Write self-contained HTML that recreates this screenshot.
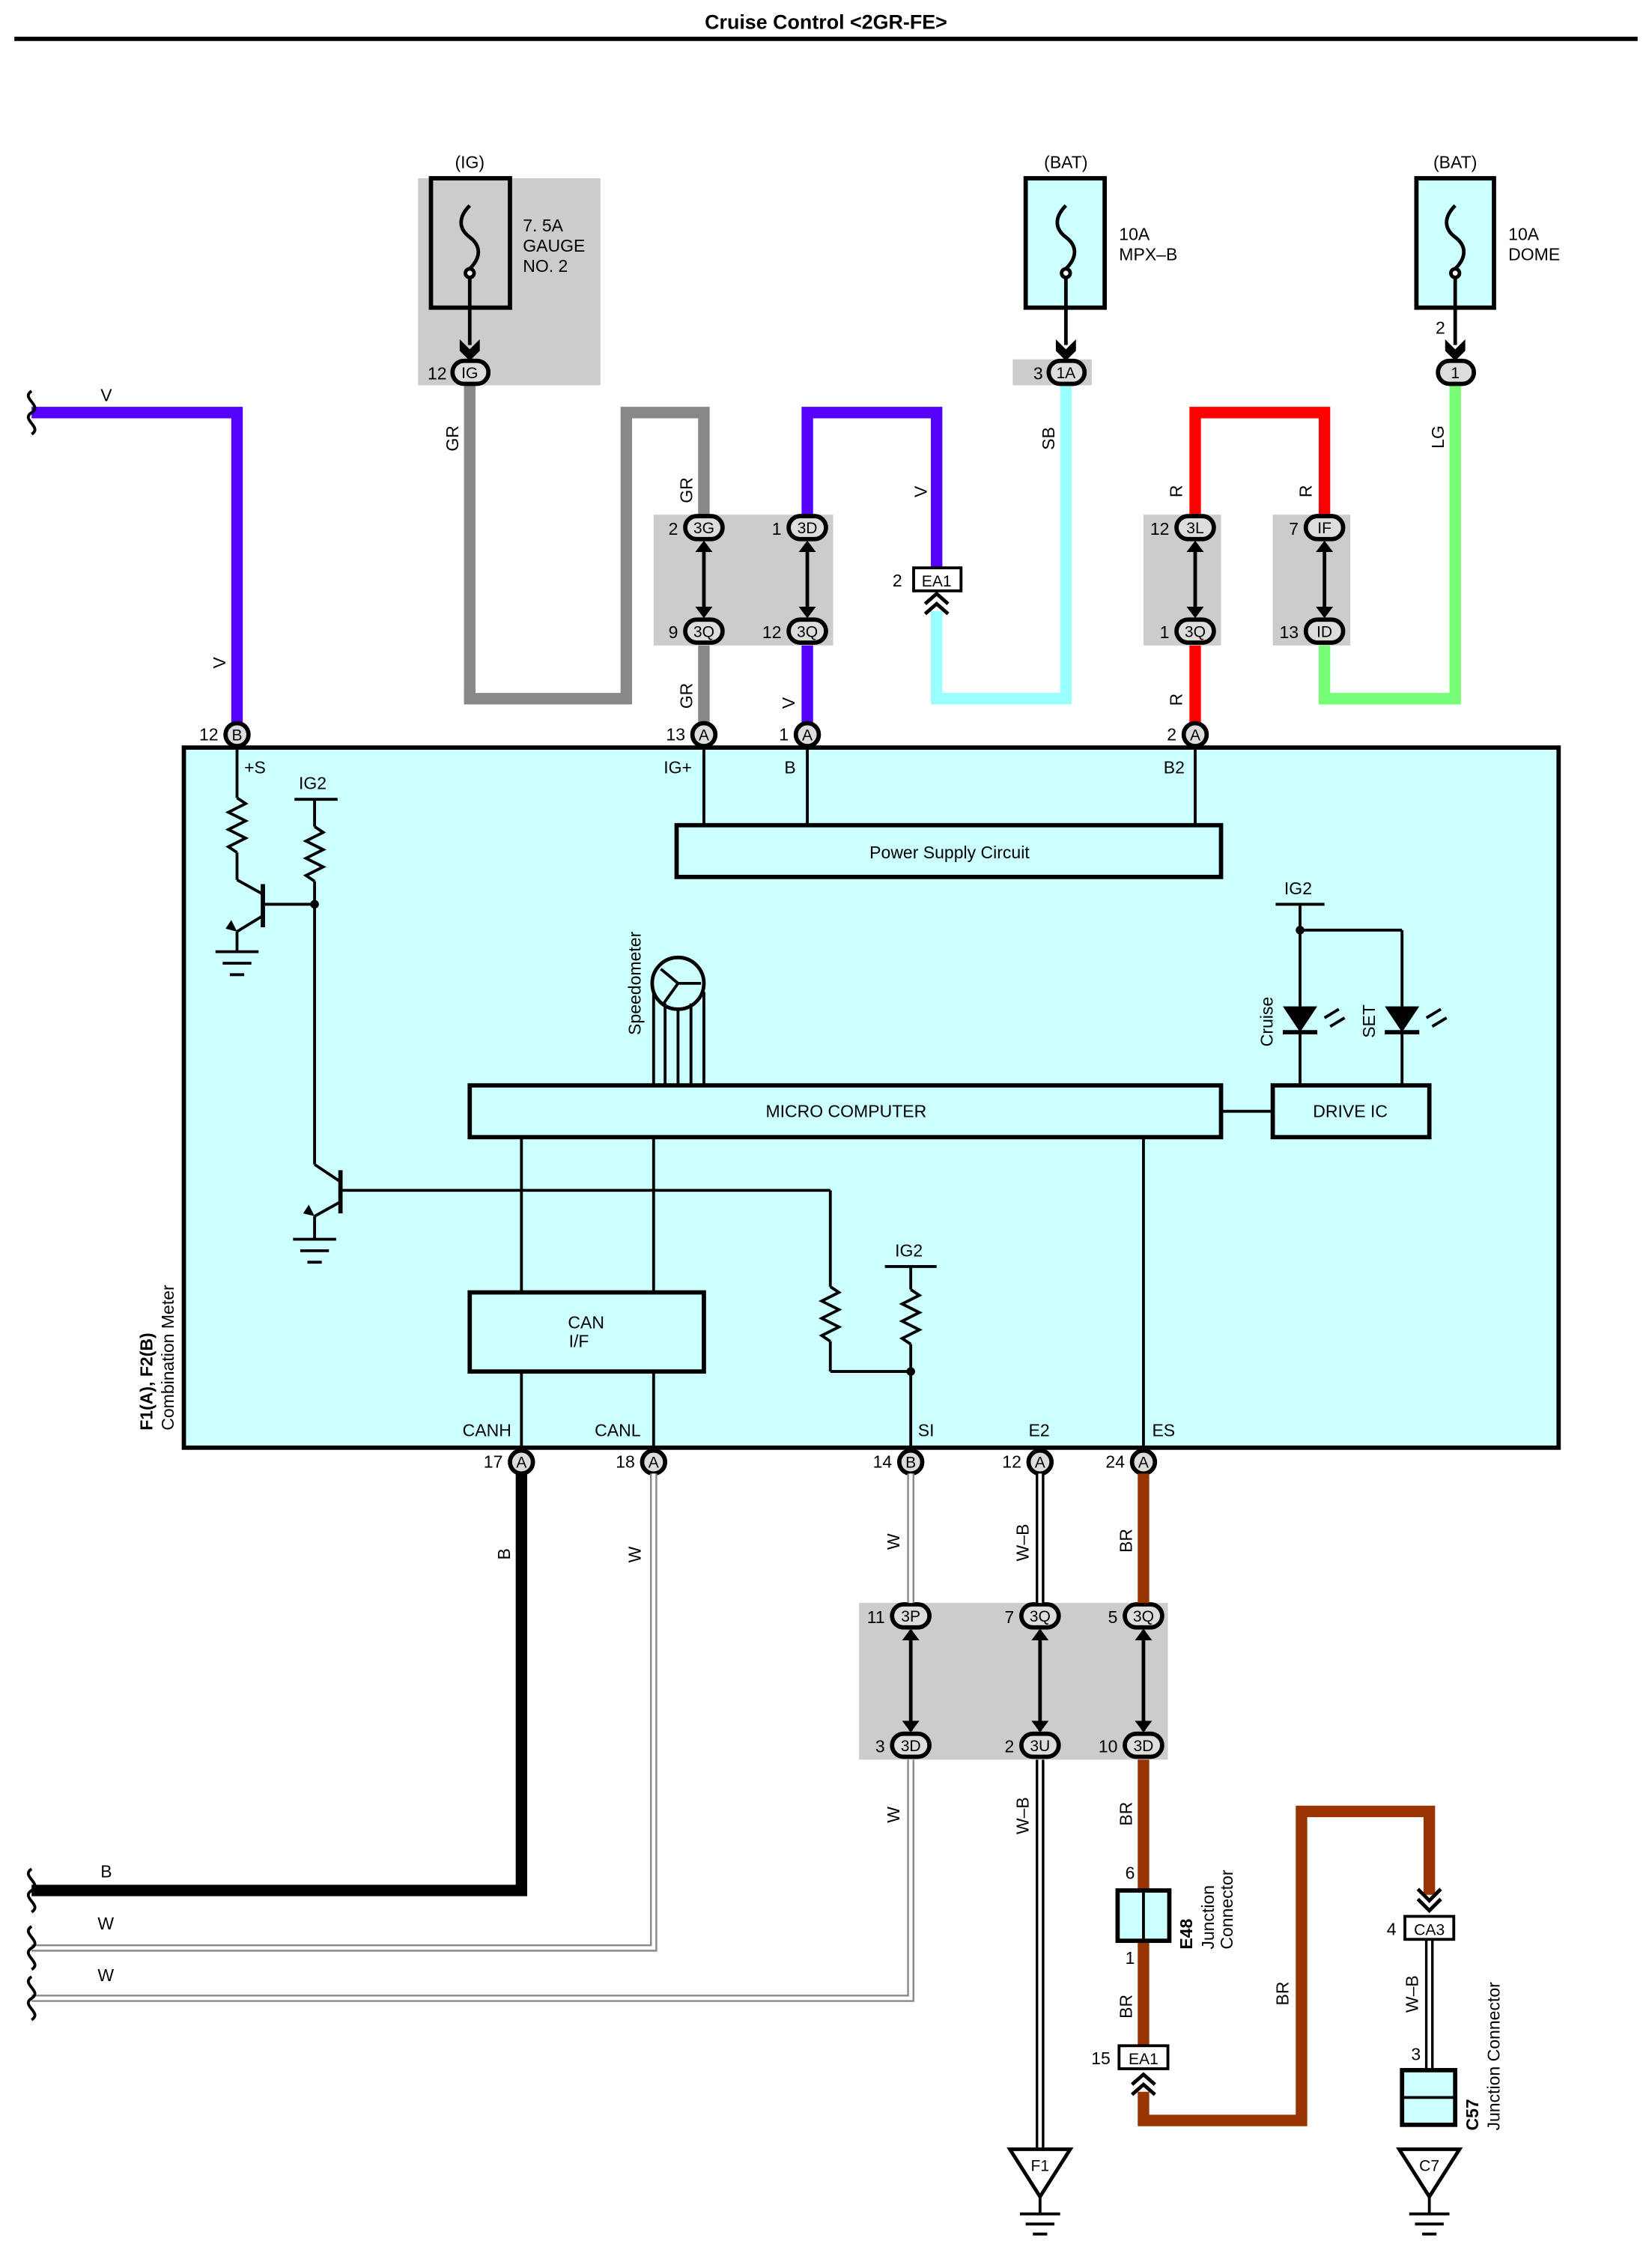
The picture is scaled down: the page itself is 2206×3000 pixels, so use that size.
<!DOCTYPE html>
<html><head><meta charset="utf-8"><style>html,body{margin:0;padding:0;background:#fff}svg{display:block}</style></head>
<body>
<svg width="2206" height="3000" viewBox="0 0 1150 1563" preserveAspectRatio="none" xmlns="http://www.w3.org/2000/svg" font-family="Liberation Sans, sans-serif" font-size="12">
<defs>
<marker id="ah" viewBox="0 0 10 10" refX="5" refY="8" markerWidth="4" markerHeight="4" orient="auto"><path d="M0,0 L5,4 L10,0 L10,4 L5,10 L0,4Z" fill="#000"/></marker>
</defs>
<text x="575" y="20" text-anchor="middle" font-weight="bold" font-size="14">Cruise Control &lt;2GR-FE&gt;</text>
<line x1="10" y1="27" x2="1140" y2="27" stroke="#000" stroke-width="3"/>

<!-- gray backgrounds -->
<rect x="291" y="124" width="127" height="144" fill="#ccc"/>
<rect x="705" y="250" width="55" height="18" fill="#ccc"/>
<rect x="455" y="358" width="125" height="91" fill="#ccc"/>
<rect x="796" y="358" width="54" height="91" fill="#ccc"/>
<rect x="886" y="358" width="54" height="91" fill="#ccc"/>
<rect x="598" y="1115" width="215" height="109" fill="#ccc"/>

<!-- fuses -->
<g stroke="#000" stroke-width="3" fill="none">
<rect x="300" y="124" width="55" height="90"/>
<rect x="714" y="124" width="55" height="90" fill="#ccffff"/>
<rect x="986" y="124" width="54" height="90" fill="#ccffff"/>
</g>
<g stroke="#000" stroke-width="2.5" fill="none">
<path d="M327,143 c-8,8 -8,16 0,22 c8,6 8,14 0,22"/><circle cx="327" cy="190" r="3" fill="#fff"/><line x1="327" y1="193" x2="327" y2="240"/>
<path d="M742,143 c-8,8 -8,16 0,22 c8,6 8,14 0,22"/><circle cx="742" cy="190" r="3" fill="#fff"/><line x1="742" y1="193" x2="742" y2="240"/>
<path d="M1013,143 c-8,8 -8,16 0,22 c8,6 8,14 0,22"/><circle cx="1013" cy="190" r="3" fill="#fff"/><line x1="1013" y1="193" x2="1013" y2="240"/>
</g>
<g fill="#000">
<path d="M320,236 L327,243 L334,236 L334,244 L327,251 L320,244Z"/>
<path d="M735,236 L742,243 L749,236 L749,244 L742,251 L735,244Z"/>
<path d="M1006,236 L1013,243 L1020,236 L1020,244 L1013,251 L1006,244Z"/>
</g>
<text x="327" y="117" text-anchor="middle">(IG)</text>
<text x="742" y="117" text-anchor="middle">(BAT)</text>
<text x="1013" y="117" text-anchor="middle">(BAT)</text>
<text x="364" y="161">7. 5A</text><text x="364" y="175">GAUGE</text><text x="364" y="189">NO. 2</text>
<text x="779" y="167">10A</text><text x="779" y="181">MPX–B</text>
<text x="1050" y="167">10A</text><text x="1050" y="181">DOME</text>

<!-- wires top -->
<g fill="none" stroke-linejoin="miter" stroke-width="8">
<path d="M22,287 H165 V503" stroke="#5500ff"/>
<path d="M327,268 V486 H436 V287 H490 V360" stroke="#888"/>
<path d="M490,449 V503" stroke="#888"/>
<path d="M562,360 V287 H652 V395" stroke="#5500ff"/>
<path d="M562,449 V503" stroke="#5500ff"/>
<path d="M742,268 V486 H652 V425" stroke="#99ffff"/>
<path d="M832,360 V287 H922 V360" stroke="#ff0000"/>
<path d="M832,449 V503" stroke="#ff0000"/>
<path d="M1013,268 V486 H922 V449" stroke="#77ff77"/>
</g>

<!-- main box -->
<rect x="128" y="520" width="957" height="487" fill="#ccffff" stroke="#000" stroke-width="3"/>

<!-- wire labels top -->
<g font-size="12">
<text x="70" y="279">V</text>
<text transform="translate(157,465) rotate(-90)">V</text>
<text transform="translate(319,314) rotate(-90)">GR</text>
<text transform="translate(482,350) rotate(-90)">GR</text>
<text transform="translate(482,493) rotate(-90)">GR</text>
<text transform="translate(645,346) rotate(-90)">V</text>
<text transform="translate(553,493) rotate(-90)">V</text>
<text transform="translate(734,313) rotate(-90)">SB</text>
<text transform="translate(823,346) rotate(-90)">R</text>
<text transform="translate(913,346) rotate(-90)">R</text>
<text transform="translate(823,491) rotate(-90)">R</text>
<text transform="translate(1005,312) rotate(-90)">LG</text>
</g>

<!-- double arrows in connector blocks -->
<g stroke="#000" stroke-width="2.5">
<line x1="490" y1="378" x2="490" y2="428"/><line x1="562" y1="378" x2="562" y2="428"/>
<line x1="832" y1="378" x2="832" y2="428"/><line x1="922" y1="378" x2="922" y2="428"/>
<line x1="634" y1="1134" x2="634" y2="1204"/><line x1="724" y1="1134" x2="724" y2="1204"/><line x1="796" y1="1134" x2="796" y2="1204"/>
</g>
<g fill="#000">
<path id="up" d="M0,0 L6,8 H-6Z" transform="translate(490,376)"/>
<path d="M0,0 L6,-8 H-6Z" transform="translate(490,430)"/>
<path d="M0,0 L6,8 H-6Z" transform="translate(562,376)"/><path d="M0,0 L6,-8 H-6Z" transform="translate(562,430)"/>
<path d="M0,0 L6,8 H-6Z" transform="translate(832,376)"/><path d="M0,0 L6,-8 H-6Z" transform="translate(832,430)"/>
<path d="M0,0 L6,8 H-6Z" transform="translate(922,376)"/><path d="M0,0 L6,-8 H-6Z" transform="translate(922,430)"/>
<path d="M0,0 L6,8 H-6Z" transform="translate(634,1133)"/><path d="M0,0 L6,-8 H-6Z" transform="translate(634,1205)"/>
<path d="M0,0 L6,8 H-6Z" transform="translate(724,1133)"/><path d="M0,0 L6,-8 H-6Z" transform="translate(724,1205)"/>
<path d="M0,0 L6,8 H-6Z" transform="translate(796,1133)"/><path d="M0,0 L6,-8 H-6Z" transform="translate(796,1205)"/>
</g>
<!-- EA1 top -->
<rect x="636" y="395" width="33" height="16" fill="#fff" stroke="#000" stroke-width="2"/>
<text x="652" y="408" text-anchor="middle" font-size="11">EA1</text>
<text x="628" y="408" text-anchor="end">2</text>
<path d="M644,420 L652,413 L660,420 M644,427 L652,420 L660,427" stroke="#000" stroke-width="2.5" fill="none"/>

<!-- pills -->
<g stroke="#000" stroke-width="3" fill="#ddd">
<rect x="315" y="251" width="25" height="16" rx="8"/>
<rect x="730" y="251" width="25" height="16" rx="8"/>
<rect x="1001" y="251" width="25" height="16" rx="8"/>
<rect x="477" y="359" width="26" height="16" rx="8"/><rect x="477" y="431" width="26" height="16" rx="8"/>
<rect x="549" y="359" width="26" height="16" rx="8"/><rect x="549" y="431" width="26" height="16" rx="8"/>
<rect x="819" y="359" width="26" height="16" rx="8"/><rect x="819" y="431" width="26" height="16" rx="8"/>
<rect x="909" y="359" width="26" height="16" rx="8"/><rect x="909" y="431" width="26" height="16" rx="8"/>
<rect x="621" y="1116" width="26" height="16" rx="8"/><rect x="621" y="1206" width="26" height="16" rx="8"/>
<rect x="711" y="1116" width="26" height="16" rx="8"/><rect x="711" y="1206" width="26" height="16" rx="8"/>
<rect x="783" y="1116" width="26" height="16" rx="8"/><rect x="783" y="1206" width="26" height="16" rx="8"/>
<circle cx="165" cy="511" r="8"/><circle cx="490" cy="511" r="8"/><circle cx="562" cy="511" r="8"/><circle cx="832" cy="511" r="8"/>
<circle cx="363" cy="1017" r="8"/><circle cx="455" cy="1017" r="8"/><circle cx="634" cy="1017" r="8"/><circle cx="724" cy="1017" r="8"/><circle cx="796" cy="1017" r="8"/>
</g>
<g font-size="11" text-anchor="middle">
<text x="327" y="263">IG</text><text x="742" y="263">1A</text><text x="1013" y="263">1</text>
<text x="490" y="371">3G</text><text x="490" y="443">3Q</text><text x="562" y="371">3D</text><text x="562" y="443">3Q</text>
<text x="832" y="371">3L</text><text x="832" y="443">3Q</text><text x="922" y="371">IF</text><text x="922" y="443">ID</text>
<text x="634" y="1128">3P</text><text x="634" y="1218">3D</text><text x="724" y="1128">3Q</text><text x="724" y="1218">3U</text><text x="796" y="1128">3Q</text><text x="796" y="1218">3D</text>
<text x="165" y="515">B</text><text x="490" y="515">A</text><text x="562" y="515">A</text><text x="832" y="515">A</text>
<text x="363" y="1021">A</text><text x="455" y="1021">A</text><text x="634" y="1021">B</text><text x="724" y="1021">A</text><text x="796" y="1021">A</text>
</g>
<g text-anchor="end">
<text x="311" y="264">12</text><text x="726" y="264">3</text><text x="1006" y="232">2</text>
<text x="472" y="372">2</text><text x="472" y="444">9</text><text x="544" y="372">1</text><text x="544" y="444">12</text>
<text x="814" y="372">12</text><text x="814" y="444">1</text><text x="904" y="372">7</text><text x="904" y="444">13</text>
<text x="152" y="515">12</text><text x="477" y="515">13</text><text x="549" y="515">1</text><text x="819" y="515">2</text>
<text x="350" y="1021">17</text><text x="442" y="1021">18</text><text x="621" y="1021">14</text><text x="711" y="1021">12</text><text x="783" y="1021">24</text>
<text x="616" y="1129">11</text><text x="616" y="1219">3</text><text x="706" y="1129">7</text><text x="706" y="1219">2</text><text x="778" y="1129">5</text><text x="778" y="1219">10</text>
</g>

<!-- internals -->
<g stroke="#000" stroke-width="2" fill="none">
<line x1="165" y1="520" x2="165" y2="555"/>
<path d="M165,555 l6,4 l-12,6 l12,6 l-12,6 l12,6 l-12,6 l6,4"/>
<line x1="165" y1="593" x2="165" y2="612"/>
<line x1="205" y1="556" x2="235" y2="556"/><line x1="219" y1="556" x2="219" y2="575"/>
<path d="M219,575 l6,4 l-12,6 l12,6 l-12,6 l12,6 l-12,6 l6,4"/>
<line x1="219" y1="613" x2="219" y2="810"/>
<line x1="219" y1="629" x2="183" y2="629"/>
<line x1="183" y1="615" x2="183" y2="645" stroke-width="3"/>
<line x1="183" y1="622" x2="165" y2="612"/><line x1="183" y1="637" x2="165" y2="648"/>
<line x1="165" y1="648" x2="165" y2="662"/>
<line x1="150" y1="662" x2="180" y2="662"/><line x1="155" y1="670" x2="175" y2="670"/><line x1="160" y1="678" x2="170" y2="678"/>
<line x1="237" y1="814" x2="237" y2="844" stroke-width="3"/>
<line x1="237" y1="828" x2="578" y2="828"/>
<line x1="237" y1="822" x2="219" y2="810"/><line x1="237" y1="836" x2="219" y2="846"/>
<line x1="219" y1="846" x2="219" y2="862"/>
<line x1="204" y1="862" x2="234" y2="862"/><line x1="209" y1="870" x2="229" y2="870"/><line x1="214" y1="878" x2="224" y2="878"/>
<line x1="578" y1="828" x2="578" y2="895"/>
<path d="M578,895 l6,4 l-12,6 l12,6 l-12,6 l12,6 l-12,6 l6,4"/>
<line x1="578" y1="933" x2="578" y2="954"/><line x1="578" y1="954" x2="634" y2="954"/>
<line x1="616" y1="881" x2="652" y2="881"/><line x1="634" y1="881" x2="634" y2="897"/>
<path d="M634,897 l6,4 l-12,6 l12,6 l-12,6 l12,6 l-12,6 l6,4"/>
<line x1="634" y1="935" x2="634" y2="1007"/>
<line x1="490" y1="520" x2="490" y2="574"/><line x1="562" y1="520" x2="562" y2="574"/><line x1="832" y1="520" x2="832" y2="574"/>
<rect x="471" y="574" width="379" height="36" stroke-width="3"/>
<rect x="327" y="755" width="523" height="36" stroke-width="3"/>
<rect x="886" y="755" width="109" height="36" stroke-width="3"/>
<line x1="850" y1="773" x2="886" y2="773"/>
<circle cx="472" cy="684" r="18" stroke-width="2.5"/>
<path d="M472,684 L460,674 M472,684 L462,698 M472,684 L488,684"/>
<line x1="455" y1="690" x2="455" y2="755"/><line x1="463" y1="698" x2="463" y2="755"/><line x1="472" y1="702" x2="472" y2="755"/><line x1="481" y1="698" x2="481" y2="755"/><line x1="490" y1="690" x2="490" y2="755"/>
<line x1="888" y1="629" x2="922" y2="629"/>
<line x1="905" y1="629" x2="905" y2="700"/><line x1="905" y1="647" x2="976" y2="647"/><line x1="976" y1="647" x2="976" y2="700"/>
<line x1="905" y1="718" x2="905" y2="755"/><line x1="976" y1="718" x2="976" y2="755"/>
<line x1="893" y1="718" x2="917" y2="718" stroke-width="3"/><line x1="964" y1="718" x2="988" y2="718" stroke-width="3"/>
<path d="M922,708 l10,-6 M926,714 l10,-6 M993,708 l10,-6 M997,714 l10,-6"/>
<line x1="363" y1="791" x2="363" y2="899"/><line x1="455" y1="791" x2="455" y2="899"/>
<line x1="796" y1="791" x2="796" y2="1007"/>
<rect x="327" y="899" width="163" height="55" stroke-width="3"/>
<line x1="363" y1="954" x2="363" y2="1007"/><line x1="455" y1="954" x2="455" y2="1007"/>
</g>
<g fill="#000">
<circle cx="219" cy="629" r="3"/><circle cx="905" cy="647" r="3"/><circle cx="634" cy="954" r="3"/>
<path d="M893,700 H917 L905,718Z"/><path d="M964,700 H988 L976,718Z"/>
<path d="M165,648 l-8,-2 l4,-6Z"/><path d="M219,846 l-8,-2 l4,-6Z"/>
</g>
<g font-size="12">
<text x="170" y="538">+S</text><text x="208" y="549">IG2</text>
<text x="462" y="538">IG+</text><text x="546" y="538">B</text><text x="810" y="538">B2</text>
<text x="661" y="597" text-anchor="middle">Power Supply Circuit</text>
<text x="589" y="777" text-anchor="middle">MICRO COMPUTER</text>
<text x="940" y="777" text-anchor="middle">DRIVE IC</text>
<text x="408" y="924" text-anchor="middle">CAN</text><text x="396" y="937">I/F</text>
<text x="894" y="622">IG2</text><text x="623" y="874">IG2</text>
<text transform="translate(446,720) rotate(-90)">Speedometer</text>
<text transform="translate(886,728) rotate(-90)">Cruise</text>
<text transform="translate(957,722) rotate(-90)">SET</text>
<text x="322" y="999">CANH</text><text x="414" y="999">CANL</text><text x="639" y="999">SI</text><text x="716" y="999">E2</text><text x="802" y="999">ES</text>
<text transform="translate(106,995) rotate(-90)" font-weight="bold">F1(A), F2(B)</text>
<text transform="translate(121,995) rotate(-90)">Combination Meter</text>
</g>

<!-- bottom wires -->
<path d="M363,1025 V1315 H22" stroke="#000" stroke-width="8" fill="none"/>
<path d="M455,1025 V1355 H22" stroke="#888" stroke-width="5" fill="none"/>
<path d="M455,1025 V1355 H22" stroke="#fff" stroke-width="2.5" fill="none"/>
<path d="M634,1025 V1115 M634,1224 V1390 H22" stroke="#888" stroke-width="5" fill="none"/>
<path d="M634,1025 V1115 M634,1224 V1390 H22" stroke="#fff" stroke-width="2.5" fill="none"/>
<path d="M724,1025 V1115 M724,1224 V1495" stroke="#000" stroke-width="6" fill="none"/>
<path d="M724,1025 V1115 M724,1224 V1495" stroke="#fff" stroke-width="2.5" fill="none"/>
<path d="M796,1025 V1115 M796,1224 V1315" stroke="#993300" stroke-width="8" fill="none"/>
<path d="M796,1350 V1423" stroke="#993300" stroke-width="8" fill="none"/>
<path d="M796,1455 V1475 H906 V1260 H995 V1318" stroke="#993300" stroke-width="8" fill="none"/>
<path d="M995,1349 V1440" stroke="#000" stroke-width="6" fill="none"/>
<path d="M995,1349 V1440" stroke="#fff" stroke-width="2.5" fill="none"/>
<!-- jagged ends -->
<g stroke="#000" stroke-width="2" fill="none">
<path d="M22,272 c-8,5 8,10 0,15 c-8,5 8,10 0,15"/>
<path d="M22,1300 c-8,5 8,10 0,15 c-8,5 8,10 0,15"/>
<path d="M22,1340 c-8,5 8,10 0,15 c-8,5 8,10 0,15"/>
<path d="M22,1375 c-8,5 8,10 0,15 c-8,5 8,10 0,15"/>
</g>
<g font-size="12">
<text transform="translate(355,1085) rotate(-90)">B</text>
<text transform="translate(446,1087) rotate(-90)">W</text>
<text transform="translate(626,1078) rotate(-90)">W</text>
<text transform="translate(626,1268) rotate(-90)">W</text>
<text transform="translate(716,1086) rotate(-90)">W–B</text>
<text transform="translate(716,1276) rotate(-90)">W–B</text>
<text transform="translate(788,1080) rotate(-90)">BR</text>
<text transform="translate(788,1270) rotate(-90)">BR</text>
<text transform="translate(788,1404) rotate(-90)">BR</text>
<text transform="translate(897,1395) rotate(-90)">BR</text>
<text transform="translate(987,1400) rotate(-90)">W–B</text>
<text x="70" y="1306">B</text><text x="68" y="1342">W</text><text x="68" y="1378">W</text>
</g>
<!-- E48 -->
<rect x="778" y="1315" width="36" height="35" fill="#ccffff" stroke="#000" stroke-width="3"/>
<line x1="796" y1="1315" x2="796" y2="1350" stroke="#000" stroke-width="2"/>
<text x="790" y="1307" text-anchor="end">6</text><text x="790" y="1366" text-anchor="end">1</text>
<text transform="translate(830,1356) rotate(-90)" font-weight="bold">E48</text>
<text transform="translate(845,1356) rotate(-90)">Junction</text>
<text transform="translate(858,1356) rotate(-90)">Connector</text>
<rect x="779" y="1423" width="34" height="16" fill="#fff" stroke="#000" stroke-width="2"/>
<text x="796" y="1436" text-anchor="middle" font-size="11">EA1</text>
<text x="773" y="1436" text-anchor="end">15</text>
<path d="M788,1450 L796,1443 L804,1450 M788,1457 L796,1450 L804,1457" stroke="#000" stroke-width="2.5" fill="none"/>
<!-- CA3 -->
<path d="M987,1314 L995,1322 L1003,1314 M987,1321 L995,1329 L1003,1321" stroke="#000" stroke-width="2.5" fill="none"/>
<rect x="978" y="1333" width="34" height="16" fill="#fff" stroke="#000" stroke-width="2"/>
<text x="995" y="1346" text-anchor="middle" font-size="11">CA3</text>
<text x="972" y="1346" text-anchor="end">4</text>
<text x="989" y="1433" text-anchor="end">3</text>
<rect x="976" y="1440" width="37" height="38" fill="#ccffff" stroke="#000" stroke-width="3"/>
<line x1="976" y1="1459" x2="1013" y2="1459" stroke="#000" stroke-width="2"/>
<text transform="translate(1029,1482) rotate(-90)" font-weight="bold">C57</text>
<text transform="translate(1044,1482) rotate(-90)">Junction Connector</text>
<!-- grounds -->
<g stroke="#000" stroke-width="2.5" fill="#fff">
<path d="M703,1495 H745 L724,1528Z"/>
<path d="M974,1495 H1016 L995,1528Z"/>
</g>
<g stroke="#000" stroke-width="2">
<line x1="724" y1="1528" x2="724" y2="1540"/><line x1="710" y1="1540" x2="738" y2="1540"/><line x1="714" y1="1547" x2="734" y2="1547"/><line x1="719" y1="1554" x2="729" y2="1554"/>
<line x1="995" y1="1528" x2="995" y2="1540"/><line x1="981" y1="1540" x2="1009" y2="1540"/><line x1="985" y1="1547" x2="1005" y2="1547"/><line x1="990" y1="1554" x2="1000" y2="1554"/>
</g>
<text x="724" y="1510" text-anchor="middle" font-size="11">F1</text>
<text x="995" y="1510" text-anchor="middle" font-size="11">C7</text>
</svg>
</body></html>
